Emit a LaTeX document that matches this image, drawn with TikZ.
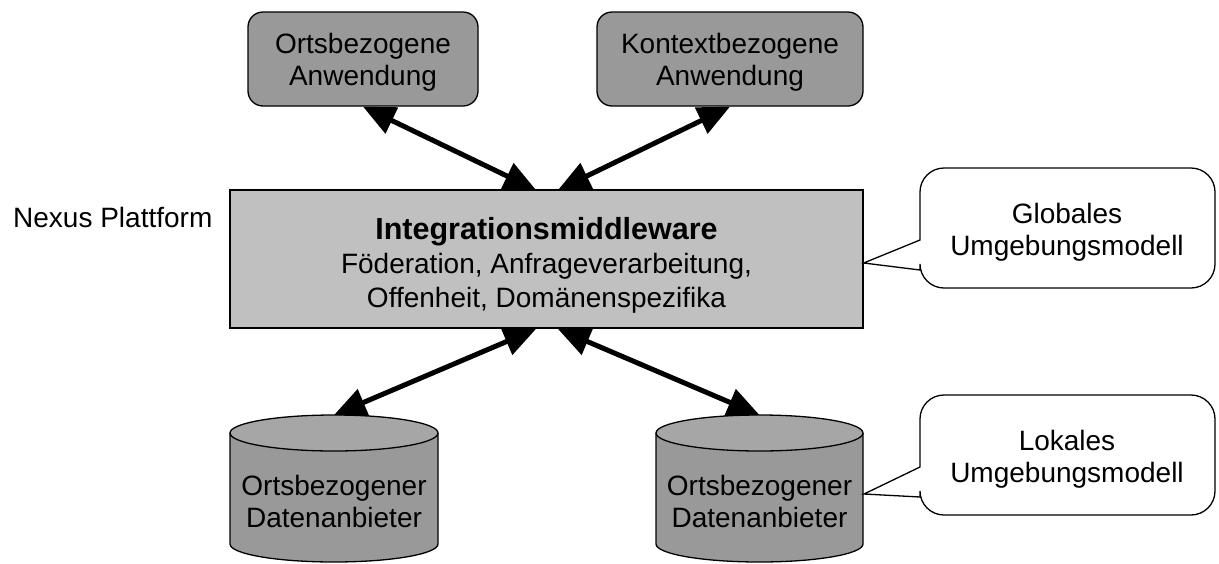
\documentclass[tikz,border=0pt]{standalone}
\usepackage{fontspec}
\setmainfont{Liberation Sans}
\usetikzlibrary{arrows.meta}
\definecolor{darkbox}{HTML}{999999}
\definecolor{cyltop}{HTML}{A6A6A6}
\definecolor{midbox}{HTML}{C0C0C0}
\begin{document}
\begin{tikzpicture}[x=1pt,y=-1pt,
  appbox/.style={draw=black,line width=1.3pt,fill=darkbox,rounded corners=15pt,minimum height=94pt,inner sep=0pt},
  mwbox/.style={draw=black,line width=1.3pt,fill=midbox,minimum width=633pt,minimum height=138pt,inner sep=0pt},
  cylline/.style={draw=black,line width=1.3pt},
  txt/.style={font=\fontsize{28}{32}\selectfont,align=center,inner sep=0pt},
  callout/.style={draw=black,line width=1.3pt,fill=white},
  biarrow/.style={line width=5pt,{Triangle[length=32pt,width=28pt]}-{Triangle[length=32pt,width=28pt]}}]
\useasboundingbox (0,0) rectangle (1219,563);
% application boxes
\node[appbox,minimum width=230pt] (app1) at (363,59) {};
\node[txt] (app1t) at (363,62.6) {\strut Ortsbezogene\\\strut Anwendung};
\node[appbox,minimum width=266pt] (app2) at (730,59) {};
\node[txt] (app2t) at (730,62.6) {\strut Kontextbezogene\\\strut Anwendung};
% middleware
\node[mwbox] (mw) at (546.5,259) {};
\node[txt,font=\fontsize{28}{34}\selectfont] (mwt) at (546.5,266.5)
  {{\fontsize{30.5}{34}\selectfont\bfseries\strut Integrationsmiddleware}\\\strut Föderation, Anfrageverarbeitung,\\\strut Offenheit, Domänenspezifika};
\node[txt,anchor=base west] (nexus) at (13,227) {Nexus Plattform};
% cylinders
\fill[darkbox] (230,433) -- (230,544) arc[start angle=180,end angle=0,x radius=104,y radius=18] -- (438,433) -- cycle;
\draw[cylline] (230,433) -- (230,544) arc[start angle=180,end angle=0,x radius=104,y radius=18] -- (438,433);
\draw[cylline,fill=cyltop] (334,433) ellipse [x radius=104,y radius=18];
\coordinate (db1top) at (334,415);
\node[txt] (db1) at (334,505) {\strut Ortsbezogener\\\strut Datenanbieter};
\fill[darkbox] (656,433) -- (656,544) arc[start angle=180,end angle=0,x radius=103.5,y radius=18] -- (863,433) -- cycle;
\draw[cylline] (656,433) -- (656,544) arc[start angle=180,end angle=0,x radius=103.5,y radius=18] -- (863,433);
\draw[cylline,fill=cyltop] (759.5,433) ellipse [x radius=103.5,y radius=18];
\coordinate (db2top) at (759.5,415);
\coordinate (db2right) at (864,494);
\node[txt] (db2) at (759.5,505) {\strut Ortsbezogener\\\strut Datenanbieter};
% arrows
\coordinate (mwtl) at (536,190);
\coordinate (mwtr) at (558,190);
\coordinate (mwbl) at (536,329);
\coordinate (mwbr) at (558,329);
\draw[biarrow] (app1.south) -- (mwtl);
\draw[biarrow] (app2.south) -- (mwtr);
\draw[biarrow] (db1top) -- (mwbl);
\draw[biarrow] (db2top) -- (mwbr);
% callouts
\coordinate (g1) at (920,240);
\coordinate (g2) at (920,270);
\coordinate (gtip) at (mw.east |- 0,263);
\coordinate (gtr) at (1215,168);
\coordinate (gbl) at (920,288);
\draw[callout] (g1) [rounded corners=24pt] |- (gtr) |- (gbl) [sharp corners] -- (g2) -- (gtip) -- cycle;
\node[txt] (gt) at (1067,233.5) {\strut Globales\\\strut Umgebungsmodell};
\coordinate (l1) at (920,467);
\coordinate (l2) at (920,497);
\coordinate (ltr) at (1215,395);
\coordinate (lbl) at (920,515);
\draw[callout] (l1) [rounded corners=24pt] |- (ltr) |- (lbl) [sharp corners] -- (l2) -- (db2right) -- cycle;
\node[txt] (lt) at (1067,460.5) {\strut Lokales\\\strut Umgebungsmodell};
\end{tikzpicture}
\end{document}
